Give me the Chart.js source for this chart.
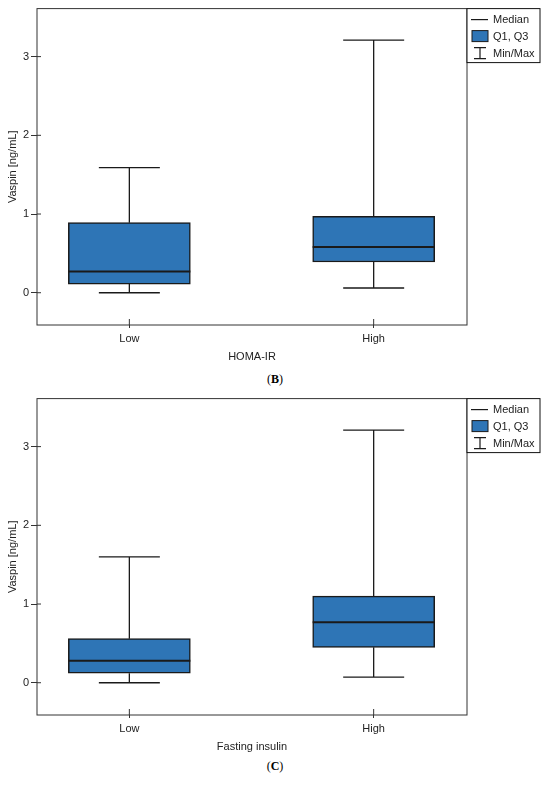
<!DOCTYPE html>
<html>
<head>
<meta charset="utf-8">
<script src="https://cdn.jsdelivr.net/npm/chart.js@4.4.0/dist/chart.umd.min.js"></script>
<style>
  body { margin: 0; background: #fff; width: 550px; height: 787px; position: relative; overflow: hidden; }
  .panel { position: absolute; left: 0; width: 550px; height: 368px; }
  .cap { position: absolute; left: 0; width: 550px; text-align: center; color: #000;
         font: 12px "Liberation Serif", "Times New Roman", serif; }
</style>
</head>
<body>
<div class="panel" style="top:0"><canvas id="chartB"></canvas></div>
<div class="cap" style="top:372px">(<b>B</b>)</div>
<div class="panel" style="top:390px"><canvas id="chartC"></canvas></div>
<div class="cap" style="top:759px">(<b>C</b>)</div>

<script>
// groups on the x axis
const groups = ["Low", "High"];
const yTicks = [0, 1, 2, 3];

// (B) vaspin by HOMA-IR
const homaMin = [0.0, 0.06];
const homaQ1 = [0.11, 0.39];
const homaMedian = [0.27, 0.58];
const homaQ3 = [0.89, 0.97];
const homaMax = [1.59, 3.21];

// (C) vaspin by fasting insulin
const insMin = [0.0, 0.07];
const insQ1 = [0.12, 0.45];
const insMedian = [0.28, 0.77];
const insQ3 = [0.56, 1.1];
const insMax = [1.6, 3.21];

const BOX_BLUE = "#2e75b6";
const INK = "#1a1a1a";

Chart.defaults.font.family = "'Liberation Sans', Arial, sans-serif";
Chart.defaults.font.size = 11;
Chart.defaults.color = "#222";

// whiskers, medians, frame and the little legend box
const boxPlugin = {
  id: "boxExtras",
  afterDatasetsDraw(chart, args, opts) {
    const ctx = chart.ctx;
    const x = chart.scales.x, y = chart.scales.y;
    const area = chart.chartArea;
    const boxW = 122, capW = 61;

    ctx.save();
    ctx.strokeStyle = INK;
    groups.forEach((g, i) => {
      const xc = x.getPixelForValue(i + 1);
      const pMin = y.getPixelForValue(opts.mins[i]);
      const pQ1 = y.getPixelForValue(opts.q1[i]);
      const pQ3 = y.getPixelForValue(opts.q3[i]);
      const pMax = y.getPixelForValue(opts.maxs[i]);
      const pMed = y.getPixelForValue(opts.medians[i]);

      ctx.lineWidth = 1.3;
      ctx.beginPath();
      ctx.moveTo(xc, pQ1); ctx.lineTo(xc, pMin);
      ctx.moveTo(xc, pQ3); ctx.lineTo(xc, pMax);
      ctx.moveTo(xc - capW / 2, pMin); ctx.lineTo(xc + capW / 2, pMin);
      ctx.moveTo(xc - capW / 2, pMax); ctx.lineTo(xc + capW / 2, pMax);
      ctx.stroke();

      ctx.lineWidth = 2;
      ctx.beginPath();
      ctx.moveTo(xc - boxW / 2, pMed); ctx.lineTo(xc + boxW / 2, pMed);
      ctx.stroke();
    });

    // plot frame
    ctx.strokeStyle = "#333";
    ctx.lineWidth = 1;
    ctx.strokeRect(area.left, area.top, area.right - area.left, area.bottom - area.top);

    // ticks that poke into the plot
    ctx.beginPath();
    yTicks.forEach(v => {
      const py = y.getPixelForValue(v);
      ctx.moveTo(area.left, py); ctx.lineTo(area.left + 4, py);
    });
    groups.forEach((g, i) => {
      const px = x.getPixelForValue(i + 1);
      ctx.moveTo(px, area.bottom); ctx.lineTo(px, area.bottom - 6);
    });
    ctx.stroke();

    // legend box
    const lx = area.right, ly = area.top, lw = 73, lh = 54;
    ctx.fillStyle = "#fff";
    ctx.fillRect(lx, ly, lw, lh);
    ctx.strokeStyle = "#111";
    ctx.strokeRect(lx, ly, lw, lh);

    ctx.strokeStyle = INK;
    ctx.lineWidth = 1.2;
    ctx.beginPath();
    ctx.moveTo(lx + 4, ly + 11); ctx.lineTo(lx + 21, ly + 11);
    ctx.stroke();

    ctx.fillStyle = BOX_BLUE;
    ctx.fillRect(lx + 5, ly + 22, 16, 11);
    ctx.lineWidth = 1;
    ctx.strokeRect(lx + 5, ly + 22, 16, 11);

    ctx.lineWidth = 1.2;
    ctx.beginPath();
    ctx.moveTo(lx + 7, ly + 39); ctx.lineTo(lx + 19, ly + 39);
    ctx.moveTo(lx + 13, ly + 39); ctx.lineTo(lx + 13, ly + 50);
    ctx.moveTo(lx + 7, ly + 50); ctx.lineTo(lx + 19, ly + 50);
    ctx.stroke();

    ctx.fillStyle = "#222";
    ctx.font = "11px 'Liberation Sans', Arial, sans-serif";
    ctx.textBaseline = "middle";
    ctx.textAlign = "left";
    ctx.fillText("Median", lx + 26, ly + 11);
    ctx.fillText("Q1, Q3", lx + 26, ly + 28);
    ctx.fillText("Min/Max", lx + 26, ly + 45);
    ctx.restore();
  }
};

function makeBoxChart(id, xTitle, mins, q1, medians, q3, maxs) {
  return new Chart(document.getElementById(id), {
    type: "bar",
    data: {
      datasets: [{
        data: groups.map((g, i) => ({ x: i + 1, y: [q1[i], q3[i]] })),
        backgroundColor: BOX_BLUE,
        borderColor: INK,
        borderWidth: 1.5,
        borderSkipped: false,
        barThickness: 122
      }]
    },
    options: {
      responsive: true,
      maintainAspectRatio: false,
      animation: false,
      layout: { padding: { left: 0, right: 83, top: 7, bottom: 0 } },
      plugins: {
        legend: { display: false },
        tooltip: { enabled: false },
        boxExtras: { mins, q1, medians, q3, maxs }
      },
      scales: {
        x: {
          type: "linear",
          min: 0.622,
          max: 2.382,
          offset: false,
          afterBuildTicks: s => { s.ticks = groups.map((g, i) => ({ value: i + 1 })); },
          afterFit: s => { s.height = 43; },
          ticks: {
            autoSkip: false,
            maxRotation: 0,
            padding: 4,
            callback: (v, i) => groups[i]
          },
          grid: { offset: false, drawOnChartArea: false, tickLength: 3, color: "#333" },
          border: { display: false },
          title: { display: true, text: xTitle, padding: { top: 0, bottom: 4 } }
        },
        y: {
          min: -0.41,
          max: 3.61,
          afterBuildTicks: s => { s.ticks = yTicks.map(v => ({ value: v })); },
          afterFit: s => { s.width = 37; },
          ticks: { padding: 2 },
          grid: { drawOnChartArea: false, tickLength: 6, color: "#333" },
          border: { display: false },
          title: { display: true, text: "Vaspin [ng/mL]", padding: { top: 6, bottom: 0 } }
        }
      }
    },
    plugins: [boxPlugin]
  });
}

makeBoxChart("chartB", "HOMA-IR", homaMin, homaQ1, homaMedian, homaQ3, homaMax);
makeBoxChart("chartC", "Fasting insulin", insMin, insQ1, insMedian, insQ3, insMax);
</script>
</body>
</html>
